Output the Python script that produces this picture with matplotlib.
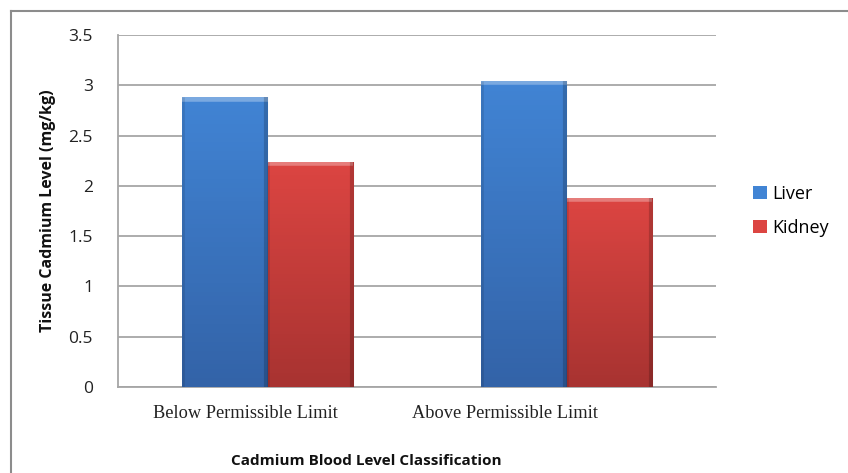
import numpy as np
import matplotlib
matplotlib.use('Agg')
import matplotlib.pyplot as plt
from matplotlib.lines import Line2D
from matplotlib.colors import LinearSegmentedColormap
import matplotlib.transforms as mtransforms

# --- data ---
categories = ["Below Permissible Limit", "Above Permissible Limit"]
liver = [2.88, 3.04]
kidney = [2.24, 1.88]
series_names = ["Liver", "Kidney"]
y_ticks = [0, 0.5, 1, 1.5, 2, 2.5, 3, 3.5]
y_tick_labels = ["0", "0.5", "1", "1.5", "2", "2.5", "3", "3.5"]

BLUE_TOP, BLUE_BOT = '#4184d4', '#3363a8'
RED_TOP, RED_BOT = '#dc4542', '#a83331'
GRID = '#a6a6a6'

fig = plt.figure(figsize=(8.48, 4.73), dpi=100)
fig.patch.set_facecolor('white')
ax = fig.add_axes([118/848, 1-387/473, (716-118)/848, (387-35)/473])

x = np.arange(len(categories))
w = 0.287

def shaded_bars(xs, vals, top, bot, label):
    bars = ax.bar(xs, vals, w, color=top, edgecolor='none', label=label, zorder=3)
    cmap = LinearSegmentedColormap.from_list('g', [bot, top])
    for b in bars:
        x0, y0 = b.get_x(), b.get_y()
        x1, y1 = x0 + b.get_width(), y0 + b.get_height()
        grad = np.linspace(0, 1, 64).reshape(-1, 1)
        im = ax.imshow(grad, extent=[x0, x1, y0, y1], origin='lower', cmap=cmap,
                       aspect='auto', zorder=3.1)
        im.set_clip_path(b)
        # bevel edges
        ax.plot([x0, x1], [y1 - 0.012, y1 - 0.012], color='white', alpha=0.3, lw=4,
                zorder=3.2, solid_capstyle='butt')
        ax.plot([x1 - 0.004, x1 - 0.004], [y0, y1], color='black', alpha=0.18, lw=3,
                zorder=3.2, solid_capstyle='butt')
        ax.plot([x0 + 0.003, x0 + 0.003], [y0, y1], color='black', alpha=0.10, lw=2,
                zorder=3.2, solid_capstyle='butt')
    return bars

shaded_bars(x - w/2, liver, BLUE_TOP, BLUE_BOT, series_names[0])
shaded_bars(x + w/2, kidney, RED_TOP, RED_BOT, series_names[1])

ax.set_xlim(-0.5, len(categories) - 0.5)
ax.set_ylim(0, 3.5)
ax.set_yticks(y_ticks)
ax.set_yticklabels(y_tick_labels, fontfamily='Open Sans', fontsize=12.5, color='#222222')
ax.yaxis.grid(True, color=GRID, lw=1.3, zorder=0)
ax.set_axisbelow(True)
ax.tick_params(axis='y', length=0, pad=18)
ax.tick_params(axis='x', length=0, pad=13)

ax.set_xticks(x)
ax.set_xticklabels(categories, fontfamily='Liberation Serif', fontsize=13.2, color='#222222')
# labels sit a bit left of the bar groups in the original
shifts = [-22, -62]
for lab, s in zip(ax.get_xticklabels(), shifts):
    lab.set_transform(lab.get_transform() + mtransforms.ScaledTranslation(s/100, 0, fig.dpi_scale_trans))

for side in ['top', 'right']:
    ax.spines[side].set_visible(False)
for side in ['left', 'bottom']:
    ax.spines[side].set_color(GRID)
    ax.spines[side].set_linewidth(1.3)

ax.set_ylabel("Tissue Cadmium Level (mg/kg)", fontfamily='Open Sans', fontweight='bold',
              fontsize=11.5, color='#111111', labelpad=9)
fig.text(366/848, 1-461/473, "Cadmium Blood Level Classification", fontfamily='Open Sans',
         fontweight='bold', fontsize=11, ha='center', va='center', color='#111111')

leg = ax.legend(loc='center left', bbox_to_anchor=(1.035, 0.5), frameon=False,
                prop={'family': 'Open Sans', 'size': 13}, handlelength=0.75, handleheight=0.75,
                handletextpad=0.3, labelspacing=0.9)

# outer chart border (top and left visible)
fig.add_artist(Line2D([11/848, 1], [1-11/473, 1-11/473], color='#8c8c8c', lw=1.5))
fig.add_artist(Line2D([11/848, 11/848], [0, 1-11/473], color='#8c8c8c', lw=1.5))

fig.savefig('out.png', dpi=100, facecolor='white')
